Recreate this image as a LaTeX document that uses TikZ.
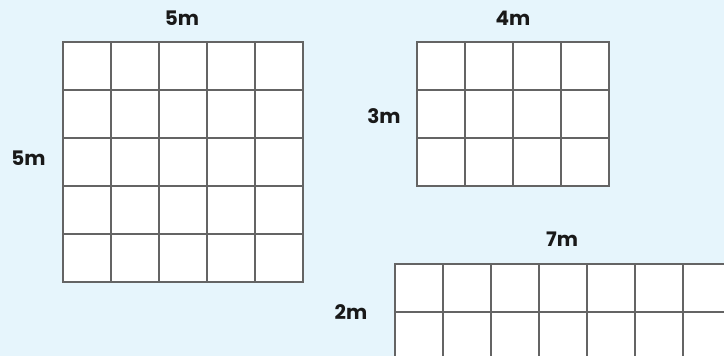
\documentclass[tikz,border=0pt]{standalone}
\usepackage{fontspec}
\setmainfont{Poppins}
\usepackage{xcolor}
\usepackage{tikz}
\usetikzlibrary{positioning}

\definecolor{skyback}{RGB}{230,245,252}
\definecolor{gridgray}{RGB}{100,100,100}
\definecolor{labelink}{RGB}{25,25,25}

\tikzset{
  cellline/.style={draw=gridgray, line width=1.5pt},
  edgeline/.style={draw=gridgray, line width=1.8pt},
  sizelabel/.style={font=\bfseries\fontsize{20}{24}\selectfont,
                    text=labelink, inner sep=0pt},
}

% tiled floor: left, top, columns, rows (one tile = 48)
\newcommand{\tilefloor}[4]{%
  \fill[white] (#1,#2) rectangle ++(#3*48,#4*48);
  \foreach \c in {1,...,#3} \draw[cellline] (#1+\c*48,#2) -- ++(0,#4*48);
  \foreach \r in {1,...,#4} \draw[cellline] (#1,#2+\r*48) -- ++(#3*48,0);
  \draw[edgeline] (#1,#2) rectangle ++(#3*48,#4*48);
}

\begin{document}
\begin{tikzpicture}[x=1pt, y=-1pt]
  \fill[skyback] (0,0) rectangle (724,356);
  \useasboundingbox (0,0) rectangle (724,356);

  \begin{scope}
    \clip (0,0) rectangle (724,356);
    \tilefloor{63}{42}{5}{5}
    \tilefloor{417}{42}{4}{3}
    \tilefloor{395}{264}{7}{2}
  \end{scope}

  \node[sizelabel] (squareTop)  at (182,18.5)  {5m};
  \node[sizelabel] (squareSide) at (28.5,158)  {5m};
  \node[sizelabel] (roomTop)    at (513,18.5)  {4m};
  \node[sizelabel] (roomSide)   at (384,116)   {3m};
  \node[sizelabel] (stripTop)   at (562,239)   {7m};
  \node[sizelabel] (stripSide)  at (351,312.5) {2m};
\end{tikzpicture}
\end{document}
